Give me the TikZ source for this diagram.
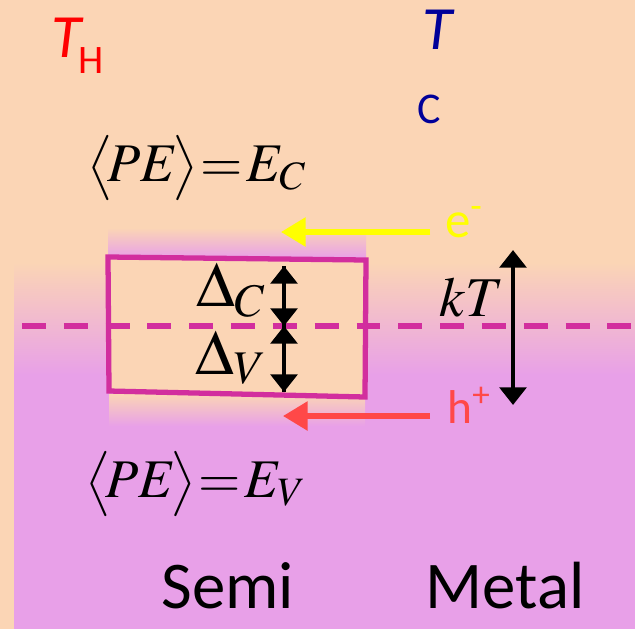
\documentclass[tikz,border=0pt]{standalone}
\usepackage{mathptmx}
\usepackage{fontspec}
\setmainfont{Carlito}
\usetikzlibrary{arrows.meta, positioning}
\definecolor{bgPeach}{HTML}{FBD5B5}
\definecolor{bgPink}{HTML}{E8A0E8}
\definecolor{lvMagenta}{HTML}{D22E9E}
\definecolor{eYellow}{HTML}{FFFF00}
\definecolor{hRed}{HTML}{FF4848}
\definecolor{tRed}{HTML}{FF0000}
\definecolor{tBlue}{HTML}{000099}

\newcommand{\fsz}[1]{\fontsize{#1}{1.2\dimexpr #1\relax}\selectfont}
\newcommand{\avgPE}[1]{$\bigl\langle\!PE\!\bigr\rangle\mskip1mu{=}\mskip1mu E_{#1}$}

\begin{document}
\begin{tikzpicture}[
  x=0.02cm, y=-0.02cm,
  every node/.style={inner sep=0pt},
  gap/.style={-{Triangle[width=15pt, length=10pt]}, line width=2.6pt, black},
  gapboth/.style={{Triangle[width=15pt, length=10pt]}-{Triangle[width=15pt, length=10pt]}, line width=2.6pt, black},
  flow/.style={-{Triangle[width=16pt, length=14pt]}, line width=3pt},
  level/.style={draw=lvMagenta, line width=3pt}
]
  \useasboundingbox (0,0) rectangle (635,629);
  % background
  \fill[bgPeach] (0,0) rectangle (635,629);
  \shade[top color=bgPeach, bottom color=bgPink] (14,262) rectangle (635,375);
  \fill[bgPink] (14,375) rectangle (635,629);
  % semiconductor column
  \fill[bgPeach] (108,200) rectangle (366,228);
  \shade[top color=bgPeach, bottom color=bgPink] (108,228) rectangle (366,258);
  \fill[bgPeach] (108,257) -- (366,260) -- (365,397) -- (109,391) -- cycle;
  \shade[top color=bgPeach, bottom color=bgPink] (109,394) rectangle (365,426);

  \draw[level] (108,257) -- (366,260) -- (365,397) -- (109,391) -- cycle;
  \draw[level, line width=3.4pt, dash pattern=on 13.6pt off 10.2pt] (22,326) -- (635,326);

  % labels
  \node[text=tRed, font=\fsz{35pt}\itshape] (Th) at (66,38) {T};
  \node[text=tRed, font=\fsz{23pt}] (Hs) at (91,61) {H};
  \node[text=tBlue, font=\fsz{35pt}\itshape] (Tc) at (437,30) {T};
  \node[text=tBlue, font=\fsz{25pt}] (Cs) at (429,109) {C};

  \node[font=\fsz{31pt}] (peC) at (197,168) {\avgPE{C}};
  \node[font=\fsz{31pt}] (peV) at (196,484) {\avgPE{V}};

  \coordinate (gC) at (284,266);
  \coordinate (gM) at (284,326);
  \coordinate (gV) at (284,392);
  \draw[gap] (gM) -- (gC);
  \draw[gap] (gC) -- (gM);
  \draw[gap] (gM) -- (gV);
  \draw[gap] (gV) -- (gM);
  \node[font=\fsz{36pt}] (dC) at (231,290) {$\Delta_C$};
  \node[font=\fsz{36pt}] (dV) at (231,358) {$\Delta_V$};

  \coordinate (kTtop) at (513,250);
  \coordinate (kTbot) at (513,405);
  \draw[gapboth] (kTbot) -- (kTtop);
  \node[font=\fsz{32pt}] (kT) at (472,297) {$kT$};

  \node[text=eYellow, font=\fsz{29pt}] (el) at (464,222) {e\textsuperscript{-}};
  \node[text=hRed, font=\fsz{27pt}] (ho) at (469,405) {h\textsuperscript{+}};
  \coordinate (eStart) at (430,232);
  \coordinate (eEnd) at (281,232);
  \coordinate (hStart) at (430,416);
  \coordinate (hEnd) at (283,416);
  \draw[flow, eYellow] (eStart) -- (eEnd);
  \draw[flow, hRed] (hStart) -- (hEnd);

  \node[font=\fsz{38pt}] (semi) at (228,586) {Semi};
  \node[font=\fsz{38pt}] (metal) at (505,586) {Metal};
\end{tikzpicture}
\end{document}
